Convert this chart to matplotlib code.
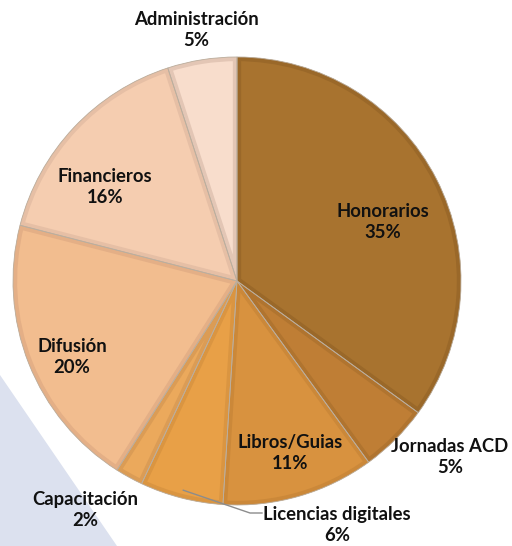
import numpy as np
import matplotlib.pyplot as plt
from matplotlib.patches import Polygon, Wedge

categories = [
    "Honorarios",
    "Jornadas ACD",
    "Libros/Guias",
    "Licencias digitales",
    "Capacitación",
    "Difusión",
    "Financieros",
    "Administración",
]
shares = [35, 5, 11, 6, 2, 20, 16, 5]

fills = ["#A8732F", "#BF7E35", "#D8923F", "#E8A047", "#EBA95C", "#F2BD8F", "#F5CDB0", "#F8DDCC"]
borders = ["#9A6829", "#B0742F", "#CB8839", "#DA9541", "#DB9C55", "#E4AF86", "#E6BFA5", "#E3C6B5"]

# label centres in pixels from the top-left corner (layout only)
label_pos = [
    (383, 222),
    (450, 457),
    (290, 453),
    (337, 525),
    (85, 510),
    (72, 357),
    (105, 187),
    (196, 30),
]

W, H = 512, 546
cx, cy, radius = 237, 281, 224

fig = plt.figure(figsize=(W / 100, H / 100), dpi=100)
ax = fig.add_axes([0, 0, 1, 1])

# pale diagonal panel behind the lower-left corner
ax.add_patch(Polygon([(0, H - 375), (0, 0), (117, 0)], closed=True,
                     facecolor="#DCE1EF", edgecolor="none", zorder=0))

wedges, _ = ax.pie(
    shares,
    colors=fills,
    startangle=90,
    counterclock=False,
    center=(cx, H - cy),
    radius=radius,
    frame=True,
    wedgeprops={"linewidth": 0},
)
# bevel-like border band drawn inside each slice
for wedge, border in zip(wedges, borders):
    wedge.set_zorder(2)
    band = Wedge(wedge.center, wedge.r, wedge.theta1, wedge.theta2,
                 facecolor="none", edgecolor=border, linewidth=6, zorder=3)
    band.set_clip_path(wedge)
    ax.add_patch(band)
    ax.add_patch(Wedge(wedge.center, wedge.r, wedge.theta1, wedge.theta2,
                       facecolor="none", edgecolor="#BBAE9E", linewidth=0.6, zorder=4))

ax.set_xlim(0, W)
ax.set_ylim(0, H)
ax.set_aspect("equal")
ax.axis("off")

# leader line for Licencias digitales
total = sum(shares)
start = sum(shares[:3]) / total
mid = start + shares[3] / total / 2
ang = np.deg2rad(90 - mid * 360)
x0 = cx + (radius - 8) * np.cos(ang)
y0 = H - cy + (radius - 8) * np.sin(ang)
lx, ly = label_pos[3]
ax.plot([x0, lx - 87, lx - 75], [y0, H - ly + 12, H - ly + 12],
        color="#8C8C8C", linewidth=1, zorder=5)

for name, value, (px, py) in zip(categories, shares, label_pos):
    ax.text(px, H - py, f"{name}\n{value}%", ha="center", va="center",
            fontsize=13.3, fontweight="bold", family="Lato", color="#111111",
            linespacing=1.3, zorder=6)

fig.savefig("out.png", dpi=100)
